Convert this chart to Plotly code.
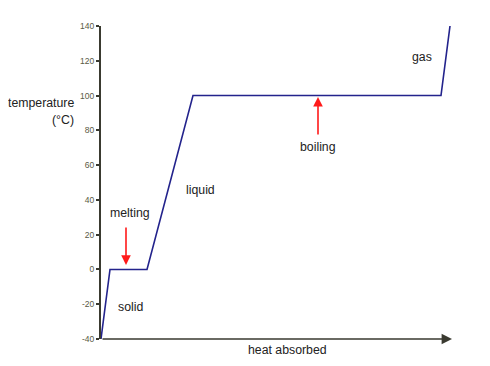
import plotly.graph_objects as go

# Heating curve data (heat in arbitrary units, temperature in °C)
heat = [0, 9, 46, 92, 340, 349]
temperature = [-40, 0, 0, 100, 100, 140]
y_ticks = [-40, -20, 0, 20, 40, 60, 80, 100, 120, 140]
y_tick_labels = ["-40", "-20", "0", "20", "40", "60", "80", "100", "120", "140"]
x_max = 351

fig = go.Figure()
fig.add_trace(go.Scatter(x=heat, y=temperature, mode="lines",
                         line=dict(color="#23238c", width=1.6),
                         hoverinfo="skip", showlegend=False))

txt = dict(family="Liberation Sans, Arial, sans-serif", size=12.3, color="#222222")
ann = []
for label, x, y in [("melting", 29, 32.5), ("solid", 29, -21.6), ("liquid", 99, 45.7),
                    ("boiling", 217, 70.4), ("gas", 321, 122.2)]:
    ann.append(dict(x=x, y=y, xref="x", yref="y", text=label, showarrow=False, font=txt))

# red arrows
ann.append(dict(x=25, y=2.6, ax=25, ay=25, xref="x", yref="y", axref="x", ayref="y",
                text="", showarrow=True, arrowhead=2, arrowsize=1.2, arrowwidth=1.6,
                arrowcolor="#ff1a1a"))
ann.append(dict(x=217, y=99.2, ax=217, ay=76.7, xref="x", yref="y", axref="x", ayref="y",
                text="", showarrow=True, arrowhead=2, arrowsize=1.2, arrowwidth=1.6,
                arrowcolor="#ff1a1a"))
# x axis arrow
ann.append(dict(x=x_max, y=-40, ax=0, ay=-40, xref="x", yref="y", axref="x", ayref="y",
                text="", showarrow=True, arrowhead=2, arrowsize=1.3, arrowwidth=1.6,
                arrowcolor="#3a3a30", standoff=0, startstandoff=0))
# axis titles
ann.append(dict(x=186, y=0, xref="x", yref="paper", yshift=-20, text="heat absorbed",
                showarrow=False, font=txt))
ann.append(dict(x=0, y=95.7, xref="paper", yref="y", xshift=-25, xanchor="right",
                text="temperature", showarrow=False, font=txt))
ann.append(dict(x=0, y=86, xref="paper", yref="y", xshift=-25, xanchor="right",
                text="(°C)", showarrow=False, font=txt))

fig.update_layout(
    width=490, height=366,
    margin=dict(l=93, r=46, t=18, b=35),
    paper_bgcolor="white", plot_bgcolor="white",
    annotations=ann,
    xaxis=dict(range=[0, x_max], showgrid=False, zeroline=False, showticklabels=False,
               showline=False, ticks="", fixedrange=True),
    yaxis=dict(range=[-40, 140], tickvals=y_ticks, ticktext=y_tick_labels,
               showgrid=False, zeroline=False,
               showline=True, linecolor="#3a3a30", linewidth=2,
               ticks="outside", ticklen=3, tickwidth=1.5, tickcolor="#3a3a30",
               tickfont=dict(family="Liberation Sans, Arial, sans-serif", size=8.5, color="#5a5a45"),
               fixedrange=True),
)

fig.write_html("out.html")
